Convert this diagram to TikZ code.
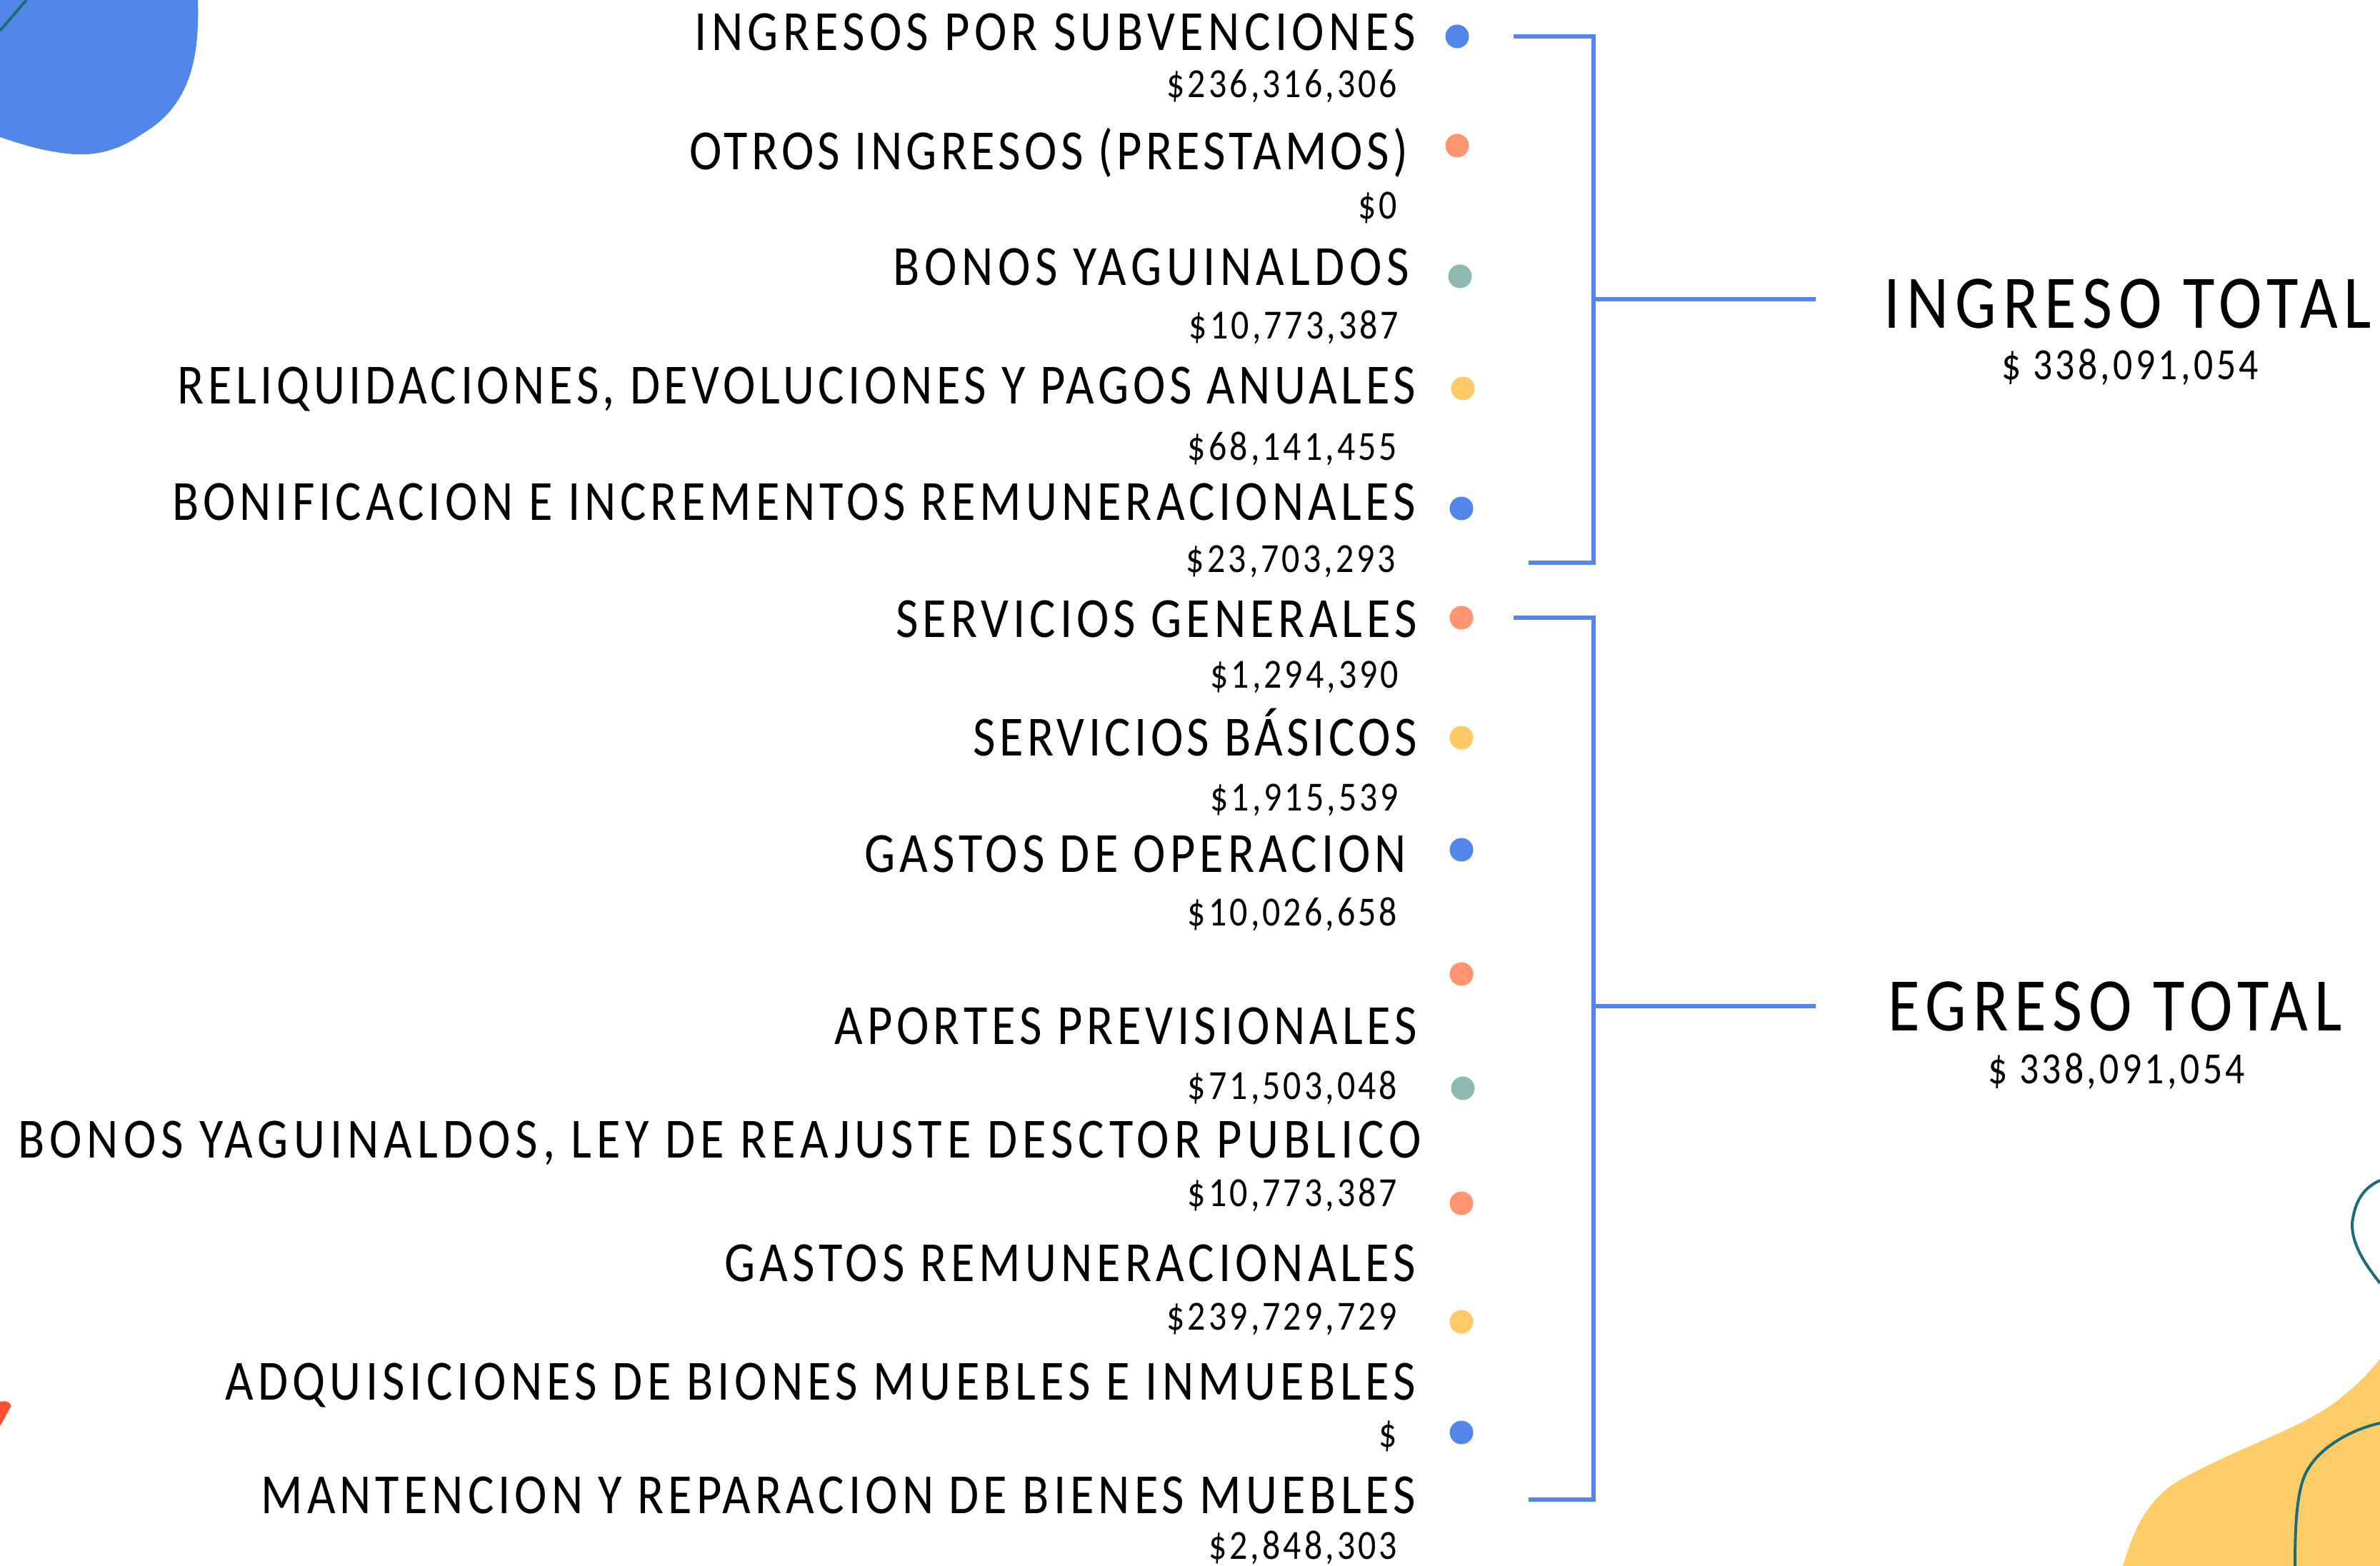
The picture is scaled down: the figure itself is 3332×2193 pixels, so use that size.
\documentclass[tikz,border=0pt]{standalone}
\usepackage{fontspec}
\setmainfont{Carlito}[FakeStretch=0.86,LetterSpace=8]
\newfontfamily\amtfont{Carlito}[FakeStretch=0.86,LetterSpace=7]
\definecolor{cblue}{HTML}{5286E9}
\definecolor{corange}{HTML}{FF9470}
\definecolor{cteal}{HTML}{8FBAB4}
\definecolor{cyellow}{HTML}{FFC966}
\definecolor{blobyellow}{HTML}{FECD67}
\definecolor{tealline}{HTML}{1B6E78}
\definecolor{cred}{HTML}{FF5030}
\begin{document}
\begin{tikzpicture}[x=0.2pt,y=-0.2pt,
  lbl/.style={anchor=base east,inner sep=0pt,font=\fontsize{15.9pt}{18pt}\selectfont\addfontfeature{LetterSpace=#1}},
  lbl/.default=8,
  amt/.style={anchor=base east,inner sep=0pt,font=\amtfont\fontsize{11.6pt}{14pt}\selectfont},
  tot/.style={anchor=base,inner sep=0pt,font=\fontsize{21.2pt}{24pt}\selectfont\addfontfeature{LetterSpace=8.5}},
  totamt/.style={anchor=base,inner sep=0pt,font=\amtfont\fontsize{12.5pt}{15pt}\selectfont},
  dot/.style={circle,inner sep=0pt,minimum size=6.6pt,draw=none},
  brk/.style={draw=cblue,line width=1.1pt},
  deco/.style={draw=tealline,line width=0.8pt}]
\useasboundingbox (0,0) rectangle (3332,2193);
% decorative shapes
\fill[cblue] (0,0) -- (277,0) .. controls (280,90) and (262,150) .. (200,187)
  .. controls (170,208) and (140,218) .. (105,216)
  .. controls (60,213) and (25,200) .. (0,192) -- cycle;
\draw[deco] (37,0) -- (0,43);
\fill[cred] (0,1963) .. controls (10,1960) and (18,1966) .. (14,1972) -- (0,1997) -- cycle;
\fill[blobyellow] (2972,2193) .. controls (2985,2150) and (3000,2110) .. (3040,2080)
  .. controls (3120,2030) and (3230,2000) .. (3280,1955)
  .. controls (3305,1935) and (3320,1918) .. (3332,1903) -- (3332,2193) -- cycle;
\draw[deco] (3332,1653) .. controls (3310,1663) and (3297,1680) .. (3293,1713)
  .. controls (3292,1745) and (3315,1775) .. (3332,1797);
\draw[deco] (3332,1993) .. controls (3290,2002) and (3240,2030) .. (3225,2070)
  .. controls (3214,2100) and (3213,2150) .. (3213,2193);
% labels
\node[lbl=8.2] (t1) at (1983,71) {INGRESOS POR SUBVENCIONES};
\node[amt] (a1) at (1957,137) {\$236,316,306};
\node[lbl=6.7] (t2) at (1972,238) {OTROS INGRESOS (PRESTAMOS)};
\node[amt] (a2) at (1957,307) {\$0};
\node[lbl=8.5] (t3) at (1974,400) {BONOS YAGUINALDOS};
\node[amt] (a3) at (1959,475) {\$10,773,387};
\node[lbl=7.1] (t4) at (1983,566) {RELIQUIDACIONES, DEVOLUCIONES Y PAGOS ANUALES};
\node[amt] (a4) at (1957,645) {\$68,141,455};
\node[lbl=7.6] (t5) at (1983,729) {BONIFICACION E INCREMENTOS REMUNERACIONALES};
\node[amt] (a5) at (1955,802) {\$23,703,293};
\node[lbl=7.65] (t6) at (1985,893) {SERVICIOS GENERALES};
\node[amt] (a6) at (1959,964) {\$1,294,390};
\node[lbl=6.8] (t7) at (1985,1059) {SERVICIOS BÁSICOS};
\node[amt] (a7) at (1959,1136) {\$1,915,539};
\node[lbl=7.65] (t8) at (1970,1222) {GASTOS DE OPERACION};
\node[amt] (a8) at (1957,1297) {\$10,026,658};
\node[lbl=7.5] (t9) at (1985,1463) {APORTES PREVISIONALES};
\node[amt] (a9) at (1957,1540) {\$71,503,048};
\node[lbl=8.9] (t10) at (1991,1622) {BONOS YAGUINALDOS, LEY DE REAJUSTE DESCTOR PUBLICO};
\node[amt] (a10) at (1957,1690) {\$10,773,387};
\node[lbl=7.7] (t11) at (1983,1794) {GASTOS REMUNERACIONALES};
\node[amt] (a11) at (1957,1863) {\$239,729,729};
\node[lbl=8.0] (t12) at (1983,1960) {ADQUISICIONES DE BIONES MUEBLES E INMUEBLES};
\node[amt] (a12) at (1957,2026) {\$};
\node[lbl=7.65] (t13) at (1983,2119) {MANTENCION Y REPARACION DE BIENES MUEBLES};
\node[amt] (a13) at (1957,2183) {\$2,848,303};
% dots
\node[dot,fill=cblue] (d1) at (2040,51) {};
\node[dot,fill=corange] (d2) at (2040,204) {};
\node[dot,fill=cteal] (d3) at (2044,387) {};
\node[dot,fill=cyellow] (d4) at (2048,544) {};
\node[dot,fill=cblue] (d5) at (2046,712) {};
\node[dot,fill=corange] (d6) at (2046,865) {};
\node[dot,fill=cyellow] (d7) at (2046,1033) {};
\node[dot,fill=cblue] (d8) at (2046,1190) {};
\node[dot,fill=corange] (d9) at (2046,1364) {};
\node[dot,fill=cteal] (d10) at (2048,1524) {};
\node[dot,fill=corange] (d11) at (2046,1685) {};
\node[dot,fill=cyellow] (d12) at (2046,1851) {};
\node[dot,fill=cblue] (d13) at (2046,2006) {};
% totals
\node[tot] (ing) at (2979,460) {INGRESO TOTAL};
\node[totamt] (inga) at (2982,532) {\$ 338,091,054};
\node[tot] (egr) at (2961,1444) {EGRESO TOTAL};
\node[totamt] (egra) at (2963,1518) {\$ 338,091,054};
% brackets
\coordinate (b1t) at (2119,51);
\coordinate (b1c) at (2231,51);
\coordinate (b1b) at (2231,788);
\coordinate (b1e) at (2140,788);
\coordinate (b1m) at (2231,419);
\coordinate (b1r) at (2542,419);
\draw[brk] (b1t) -- (b1c) -- (b1b) -- (b1e);
\draw[brk] (b1m) -- (b1r);
\coordinate (b2t) at (2119,865);
\coordinate (b2c) at (2231,865);
\coordinate (b2b) at (2231,2100);
\coordinate (b2e) at (2140,2100);
\coordinate (b2m) at (2231,1409);
\coordinate (b2r) at (2542,1409);
\draw[brk] (b2t) -- (b2c) -- (b2b) -- (b2e);
\draw[brk] (b2m) -- (b2r);
\end{tikzpicture}
\end{document}
